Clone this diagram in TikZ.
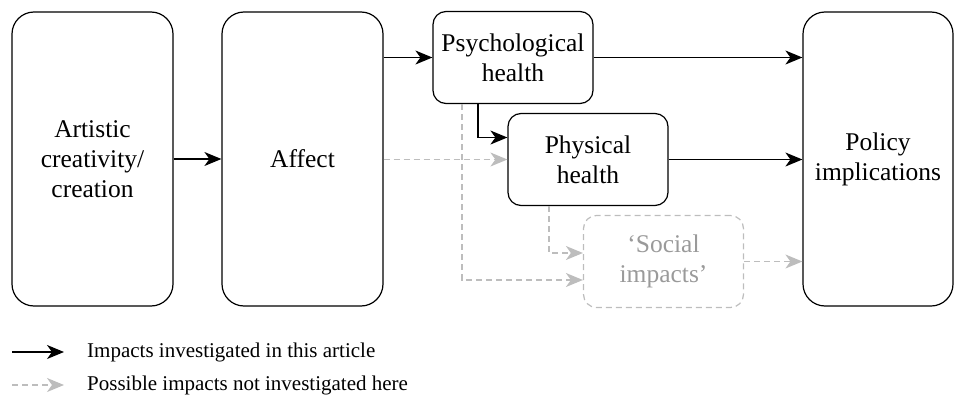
\documentclass[tikz,border=0pt]{standalone}
\usepackage{fontspec}
\setmainfont[Ligatures=TeX]{Liberation Serif}
\usetikzlibrary{arrows.meta}
\definecolor{lgray}{HTML}{BDBDBD}
\definecolor{tgray}{HTML}{9A9A9A}
\tikzset{
  bigbox/.style={draw, line width=1.2pt, rounded corners=22pt, minimum width=161pt, minimum height=294pt, align=center, inner sep=0pt, font=\rmfamily\fontsize{25.5}{30}\selectfont},
  smallbox/.style={draw, line width=1.2pt, rounded corners=13pt, minimum width=160pt, minimum height=92pt, align=center, inner sep=0pt, font=\rmfamily\fontsize{25.5}{30}\selectfont},
  socbox/.style={smallbox, draw=lgray, dashed, dash pattern=on 6pt off 4pt, text=tgray},
  blk/.style={line width=1.3pt, -{Stealth[length=17pt,width=14pt,inset=5pt]}},
  gry/.style={line width=1.3pt, lgray, dash pattern=on 6pt off 4pt, -{Stealth[length=17pt,width=14pt,inset=5pt]}},
  legtext/.style={anchor=west, inner sep=0pt, font=\rmfamily\fontsize{21}{25}\selectfont}
}
\begin{document}
\begin{tikzpicture}[x=1pt,y=-1pt]
\useasboundingbox (0,0) rectangle (954,407);
\node[bigbox] (art) at (92.5,159) {Artistic\\creativity/\\creation};
\node[bigbox] (aff) at (302.5,159) {Affect};
\node[smallbox] (psy) at (513,57.5) {Psychological\\health};
\node[smallbox] (phy) at (588,159.5) {Physical\\health};
\node[socbox] (soc) at (663.5,261.5) {`Social\\impacts'};
\node[bigbox, minimum width=150pt] (pol) at (878,159) {Policy\\implications};

\draw[blk] (art) -- (aff);
\draw[blk] (aff.east |- psy.west) -- (psy.west);
\draw[blk] (psy.east) -- (pol.west |- psy.east);
\draw[blk] ([xshift=-35pt]psy.south) |- ([yshift=22pt]phy.west);
\draw[gry] (aff.east |- phy.west) -- (phy.west);
\draw[blk] (phy.east) -- (pol.west |- phy.east);
\draw[gry] ([xshift=-51pt]psy.south) |- ([yshift=-18.5pt]soc.west);
\draw[gry] ([xshift=-39pt]phy.south) |- ([yshift=8.5pt]soc.west);
\draw[gry] (soc.east) -- (pol.west |- soc.east);

\coordinate (l1a) at (12,352);
\coordinate (l1b) at (64,352);
\coordinate (l2a) at (12,385);
\coordinate (l2b) at (64,385);
\draw[blk] (l1a) -- (l1b);
\draw[gry] (l2a) -- (l2b);
\node[legtext] (t1) at (87,352) {Impacts investigated in this article};
\node[legtext] (t2) at (87,385) {Possible impacts not investigated here};
\end{tikzpicture}
\end{document}
